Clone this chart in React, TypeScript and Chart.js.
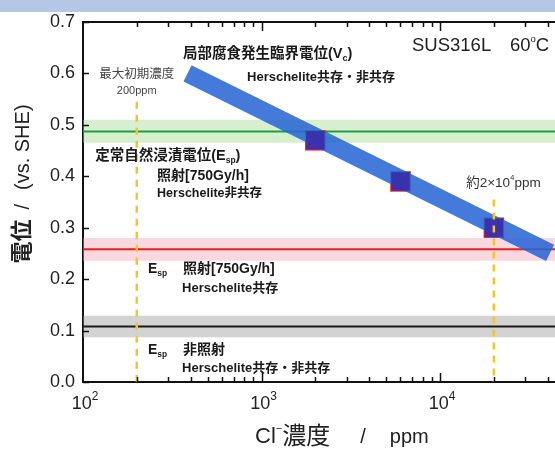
import React, { useEffect, useRef } from "react";
import { Chart, registerables } from "chart.js";
Chart.register(...registerables);

// ---- axes ----
const X_MIN = 100;
const X_MAX = 44000;
const Y_MIN = 0;
const Y_MAX = 0.7;
const yTickValues = [0, 0.1, 0.2, 0.3, 0.4, 0.5, 0.6, 0.7];
const xDecades = [2, 3, 4];
const xMantissas = [1, 2, 3, 4, 5, 6, 7, 8, 9];

// ---- critical potential for localized corrosion (Vc) band ----
const vcBandPpm = [385, 41300];
const vcBandV = [0.6, 0.251];

// ---- measured Vc points ----
const vcPointPpm = [2000, 6000, 20000];
const vcPointV = [0.47, 0.39, 0.3];

// ---- steady-state immersion potentials (Esp) ----
const espLineV = [0.487, 0.258, 0.108];
const espBandLowV = [0.465, 0.236, 0.087];
const espBandHighV = [0.51, 0.28, 0.129];
const espLineColors = ["#1f9e3a", "#e81d1d", "#1a1a1a"];
const espBandColors = ["rgba(160,215,140,0.42)", "rgba(245,160,180,0.42)", "rgba(150,150,150,0.42)"];

// ---- guide lines (yellow dashed) ----
const guidePpm = [200, 20000];
const guideTopV = [0.545, 0.355];

const FAMILY = '"Liberation Sans", "Noto Sans CJK JP", Arial, sans-serif';

type Seg = { t?: string; size?: number; bold?: boolean; sub?: boolean; sup?: boolean; gap?: number; color?: string };

function segFont(s: Seg) {
  return `${s.bold ? "bold " : ""}${s.size || 12}px ${FAMILY}`;
}

function drawRich(ctx: CanvasRenderingContext2D, segs: Seg[], x: number, y: number, align: "left" | "center", color: string) {
  let w = 0;
  for (const s of segs) {
    if (s.gap) { w += s.gap; continue; }
    ctx.font = segFont(s);
    w += ctx.measureText(s.t || "").width;
  }
  let cx = align === "center" ? x - w / 2 : x;
  const base = segs.find((s) => !s.sub && !s.sup && s.t)?.size || 12;
  ctx.textAlign = "left";
  ctx.textBaseline = "middle";
  for (const s of segs) {
    if (s.gap) { cx += s.gap; continue; }
    ctx.font = segFont(s);
    ctx.fillStyle = s.color || color;
    let dy = 0;
    if (s.sub) dy = base * 0.32;
    if (s.sup) dy = -base * 0.38;
    ctx.fillText(s.t || "", cx, y + dy);
    cx += ctx.measureText(s.t || "").width;
  }
}

type Note = { x: number; y: number; align?: "left" | "center"; color?: string; segs: Seg[] };

const notes: Note[] = [
  { x: 363, y: 0.638, segs: [{ t: "局部腐食発生臨界電位(V", size: 14.5, bold: true }, { t: "c", size: 9, bold: true, sub: true }, { t: ")", size: 14.5, bold: true }] },
  { x: 829, y: 0.593, segs: [{ t: "Herschelite共存・非共存", size: 13, bold: true }] },
  { x: 6960, y: 0.653, color: "#222", segs: [{ t: "SUS316L", size: 18.5 }] },
  { x: 24600, y: 0.653, color: "#222", segs: [{ t: "60", size: 18.5 }, { t: "o", size: 9.5, sup: true }, { t: "C", size: 18.5 }] },
  { x: 200, y: 0.597, align: "center", color: "#444", segs: [{ t: "最大初期濃度", size: 12.5 }] },
  { x: 200, y: 0.566, align: "center", color: "#444", segs: [{ t: "200ppm", size: 11 }] },
  { x: 117, y: 0.439, segs: [{ t: "定常自然浸漬電位(E", size: 14.5, bold: true }, { t: "sp", size: 8.5, sub: true, bold: true }, { t: ")", size: 14.5, bold: true }] },
  { x: 260, y: 0.4, segs: [{ t: "照射[750Gy/h]", size: 14, bold: true }] },
  { x: 260, y: 0.366, segs: [{ t: "Herschelite非共存", size: 12.5, bold: true }] },
  { x: 14000, y: 0.387, color: "#333", segs: [{ t: "約2", size: 13.5 }, { t: "×", size: 13.5 }, { t: "10", size: 13.5 }, { t: "4", size: 8, sup: true }, { t: "ppm", size: 13.5 }] },
  { x: 231, y: 0.22, segs: [{ t: "E", size: 14, bold: true }, { t: "sp", size: 8.5, sub: true, bold: true }] },
  { x: 363, y: 0.22, segs: [{ t: "照射[750Gy/h]", size: 14, bold: true }] },
  { x: 359, y: 0.181, segs: [{ t: "Herschelite共存", size: 13, bold: true }] },
  { x: 231, y: 0.062, segs: [{ t: "E", size: 14, bold: true }, { t: "sp", size: 8.5, sub: true, bold: true }] },
  { x: 363, y: 0.062, segs: [{ t: "非照射", size: 14, bold: true }] },
  { x: 359, y: 0.027, segs: [{ t: "Herschelite共存・非共存", size: 13, bold: true }] },
];

const decoPlugin = {
  id: "deco",
  beforeDraw(chart: any) {
    const { ctx, width, height } = chart;
    ctx.save();
    ctx.fillStyle = "#ffffff";
    ctx.fillRect(0, 0, width, height);
    ctx.fillStyle = "#b4c7e7";
    ctx.fillRect(0, 0, width, 12);
    ctx.restore();
  },
  afterDraw(chart: any) {
    const { ctx, chartArea: ca } = chart;
    const xs = chart.scales.x;
    const ys = chart.scales.y;
    ctx.save();
    ctx.strokeStyle = "#111";
    ctx.lineWidth = 2;
    ctx.beginPath();
    ctx.moveTo(ca.left - 1, ca.top);
    ctx.lineTo(ca.right, ca.top);
    ctx.stroke();

    ctx.lineWidth = 1.5;
    for (const e of xDecades) {
      for (const m of xMantissas) {
        const v = m * Math.pow(10, e);
        if (v > X_MAX || v <= X_MIN) continue;
        const px = Math.round(xs.getPixelForValue(v)) + 0.5;
        const len = m === 1 ? 9 : 5;
        ctx.beginPath();
        ctx.moveTo(px, ca.bottom);
        ctx.lineTo(px, ca.bottom - len);
        ctx.moveTo(px, ca.top);
        ctx.lineTo(px, ca.top + len);
        ctx.stroke();
      }
    }
    for (const v of yTickValues) {
      const py = Math.round(ys.getPixelForValue(v)) + 0.5;
      ctx.beginPath();
      ctx.moveTo(ca.left, py);
      ctx.lineTo(ca.left + 6, py);
      ctx.stroke();
    }

    // x tick labels (10^n)
    for (const e of xDecades) {
      const px = xs.getPixelForValue(Math.pow(10, e));
      drawRich(ctx, [{ t: "10", size: 18 }, { t: String(e), size: 12, sup: true }], px + 2, 404, "center", "#222");
    }

    // axis titles
    drawRich(
      ctx,
      [{ t: "Cl", size: 22 }, { t: "−", size: 11, sup: true }, { t: "濃度", size: 24 }, { gap: 30 }, { t: "/", size: 20 }, { gap: 24 }, { t: "ppm", size: 20 }],
      255,
      437,
      "left",
      "#222"
    );
    ctx.save();
    ctx.translate(23, 184);
    ctx.rotate(-Math.PI / 2);
    drawRich(
      ctx,
      [{ t: "電位", size: 22, bold: true }, { gap: 10 }, { t: "/", size: 20 }, { gap: 14 }, { t: "(vs. SHE)", size: 20 }],
      0,
      0,
      "center",
      "#222"
    );
    ctx.restore();

    // annotations
    for (const n of notes) {
      const px = xs.getPixelForValue(n.x);
      const py = ys.getPixelForValue(n.y);
      drawRich(ctx, n.segs, px, py, n.align || "left", n.color || "#1a1a1a");
    }
    ctx.restore();
  },
};

export default function App() {
  const ref = useRef<HTMLCanvasElement>(null);
  useEffect(() => {
    document.body.style.margin = "0";
    const datasets: any[] = [];
    espLineV.forEach((_, i) => {
      datasets.push({
        data: [{ x: X_MIN, y: espBandHighV[i] }, { x: X_MAX, y: espBandHighV[i] }],
        borderWidth: 0,
        pointRadius: 0,
        fill: "+1",
        backgroundColor: espBandColors[i],
        order: 6,
      });
      datasets.push({
        data: [{ x: X_MIN, y: espBandLowV[i] }, { x: X_MAX, y: espBandLowV[i] }],
        borderWidth: 0,
        pointRadius: 0,
        fill: false,
        order: 6,
      });
    });
    espLineV.forEach((v, i) => {
      datasets.push({
        data: [{ x: X_MIN, y: v }, { x: X_MAX, y: v }],
        borderColor: espLineColors[i],
        borderWidth: 2,
        pointRadius: 0,
        fill: false,
        order: 5,
      });
    });
    const vcPoints = vcPointPpm.map((x, i) => ({ x, y: vcPointV[i] }));
    datasets.push({
      data: vcPoints,
      showLine: false,
      pointStyle: "rect",
      pointRadius: 14.5,
      pointBackgroundColor: "#e8202a",
      pointBorderWidth: 0,
      order: 4,
    });
    datasets.push({
      data: vcBandPpm.map((x, i) => ({ x, y: vcBandV[i] })),
      borderColor: "rgba(42,104,212,0.88)",
      borderWidth: 18,
      borderCapStyle: "butt",
      pointRadius: 0,
      fill: false,
      order: 3,
    });
    datasets.push({
      data: vcPoints,
      showLine: false,
      pointStyle: "rect",
      pointRadius: 13,
      pointBackgroundColor: "rgba(55,45,170,0.9)",
      pointBorderWidth: 0,
      order: 2,
    });
    guidePpm.forEach((x, i) => {
      datasets.push({
        data: [{ x, y: guideTopV[i] }, { x, y: Y_MIN }],
        borderColor: "#f2c52a",
        borderWidth: 2.5,
        borderDash: [7, 6],
        pointRadius: 0,
        fill: false,
        order: 1,
      });
    });

    const chart = new Chart(ref.current as HTMLCanvasElement, {
      type: "line",
      data: { datasets },
      options: {
        animation: false,
        responsive: false,
        layout: { autoPadding: false, padding: { top: 22, left: 0, right: 0, bottom: 0 } },
        plugins: { legend: { display: false }, tooltip: { enabled: false } },
        scales: {
          x: {
            type: "logarithmic",
            min: X_MIN,
            max: X_MAX,
            ticks: { display: false },
            grid: { display: false, drawTicks: false },
            border: { display: true, color: "#111", width: 2 },
            afterFit: (s: any) => { s.height = 68; },
          },
          y: {
            type: "linear",
            min: Y_MIN,
            max: Y_MAX,
            afterBuildTicks: (s: any) => { s.ticks = yTickValues.map((v) => ({ value: v })); },
            ticks: {
              font: { size: 18, family: FAMILY },
              color: "#222",
              padding: 8,
              callback: (v: any) => Number(v).toFixed(1),
            },
            grid: { display: false, drawTicks: false },
            border: { display: true, color: "#111", width: 2 },
            afterFit: (s: any) => { s.width = 83; },
          },
        },
      } as any,
      plugins: [decoPlugin],
    });
    return () => chart.destroy();
  }, []);
  return (
    <div style={{ position: "absolute", left: 0, top: 0, width: 555, height: 450 }}>
      <canvas ref={ref} width={555} height={450} style={{ display: "block", width: 555, height: 450 }} />
    </div>
  );
}
